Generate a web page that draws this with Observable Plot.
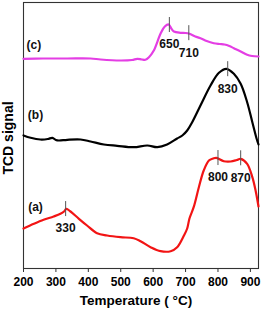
<!DOCTYPE html>
<html>
<head>
<meta charset="utf-8">
<script src="https://cdn.jsdelivr.net/npm/d3@7"></script>
<script src="https://cdn.jsdelivr.net/npm/@observablehq/plot@0.6"></script>
<style>
  html, body { margin: 0; padding: 0; background: #fff; }
  #chart { width: 261px; height: 312px; overflow: hidden; }
</style>
</head>
<body>
<div id="chart"></div>
<script>
// ---- data (TCD signal, arbitrary units) ----
const tempA = [200, 232, 262, 293, 314, 325, 332, 345, 371, 396, 427, 458, 499, 540, 561, 592, 623, 654, 674, 695, 705, 712, 725, 741, 756, 772, 785, 795, 818, 839, 858, 870, 890, 906, 916, 925];
const signalA = [40, 44.7, 48.7, 52, 54.7, 57, 59.7, 57, 49.7, 43, 35.3, 33, 31.3, 30.3, 27.3, 21.3, 17.3, 17.3, 21.3, 33, 40, 50, 61.3, 81.3, 98, 108, 110, 110.7, 107.3, 107, 108.5, 109.7, 104.7, 91.3, 78, 62];

const tempB = [200, 222, 252, 275, 289, 300, 309, 335, 376, 407, 448, 489, 540, 582, 613, 643, 674, 690, 705, 720, 746, 777, 803, 826, 849, 870, 890, 906, 919, 925];
const signalB = [133, 130.7, 129, 129.5, 130.7, 128.5, 128, 128.7, 129, 127, 124, 122.7, 121.3, 123, 121.3, 124, 130, 133, 138, 146, 163, 183, 195.7, 199.7, 194.7, 184.7, 166.3, 146.3, 130, 124];

const tempC = [200, 260, 335, 407, 438, 499, 535, 551, 565, 576, 587, 602, 623, 636, 648, 656, 664, 684, 700, 712, 730, 746, 765, 787, 805, 820, 835, 849, 870, 890, 905, 925];
const signalC = [209.7, 210, 210, 210, 209, 208, 208.5, 209.7, 209, 208.7, 211.3, 218, 235, 242, 244, 240, 237, 235.7, 235.5, 234.7, 232, 230.3, 227.5, 225.3, 224.5, 224, 222.5, 220.3, 217, 213.7, 212.5, 212];

const seriesNames = ["(a)", "(b)", "(c)"];
const seriesKeys = ["a", "b", "c"];
const seriesColors = ["#f21414", "#000000", "#e43ee4"];

const peakTemps = [330, 800, 870, 830, 650, 710];
const peakSeries = ["a", "a", "a", "b", "c", "c"];

const xTicks = [200, 300, 400, 500, 600, 700, 800, 900];

// ---- build tables ----
const series = {
  a: tempA.map((t, i) => ({t, v: signalA[i], s: "a"})),
  b: tempB.map((t, i) => ({t, v: signalB[i], s: "b"})),
  c: tempC.map((t, i) => ({t, v: signalC[i], s: "c"}))
};
function valueAt(key, t) {
  const d = series[key];
  for (let i = 1; i < d.length; i++) {
    if (t <= d[i].t) {
      const a = d[i - 1], b = d[i];
      return a.v + (b.v - a.v) * (t - a.t) / (b.t - a.t);
    }
  }
  return d[d.length - 1].v;
}
const peaks = peakTemps.map((t, i) => ({t, s: peakSeries[i], v: valueAt(peakSeries[i], t), label: String(t)}));
const labelPos = {a: [237, 61], b: [237, 153], c: [232, 223]};
const seriesLabels = seriesNames.map((name, i) => ({name, x: labelPos[seriesKeys[i]][0], y: labelPos[seriesKeys[i]][1]}));

const font = "'Liberation Sans', Arial, Helvetica, sans-serif";

const chart = Plot.plot({
  width: 261,
  height: 312,
  marginLeft: 23,
  marginRight: 3,
  marginTop: 2,
  marginBottom: 44,
  style: {fontFamily: font, fontWeight: "bold", background: "#fff", color: "#000", overflow: "visible"},
  x: {domain: [200, 925]},
  y: {domain: [0, 266], axis: null},
  marks: [
    Plot.frame({stroke: "#333", strokeWidth: 1.1}),
    Plot.axisX({ticks: xTicks, tickSize: 4, tickPadding: 5, fontSize: 12, fontWeight: "bold", label: null, stroke: "#333", tickFormat: d => String(d)}),
    ...seriesKeys.map((k, i) => Plot.line(series[k], {x: "t", y: "v", stroke: seriesColors[i], strokeWidth: 2.2, curve: "catmull-rom"})),
    Plot.ruleX(peaks, {x: "t", y1: d => d.v - 7, y2: d => d.v + 8, stroke: "#555", strokeWidth: 1}),
    Plot.text(peaks, {x: "t", y: "v", text: "label", dy: 19, fontSize: 12, fontWeight: "bold", fill: "#111"}),
    Plot.text(seriesLabels, {x: "x", y: "y", text: "name", fontSize: 12, fontWeight: "bold", fill: "#111"}),
    Plot.text(["TCD signal"], {frameAnchor: "left", textAnchor: "middle", lineAnchor: "middle", rotate: -90, dx: -14.5, dy: 2.5, fontSize: 14, fontWeight: "bold", fill: "#000"}),
    Plot.text(["Temperature ( \u00B0C)"], {frameAnchor: "bottom", textAnchor: "middle", lineAnchor: "middle", dy: 32, dx: -5, fontSize: 13.5, fontWeight: "bold", fill: "#000"})
  ]
});
document.getElementById("chart").appendChild(chart);
</script>
</body>
</html>
